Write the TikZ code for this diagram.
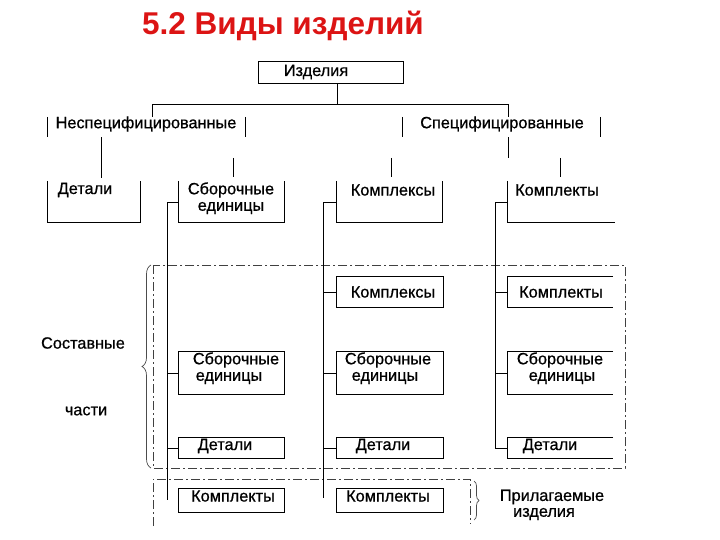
\documentclass[tikz,border=0pt]{standalone}
\usepackage{fontspec}
\setmainfont{Liberation Sans}
\newfontfamily\bodyfont{Liberation Sans}[FakeBold=0.7]
\usetikzlibrary{decorations.pathreplacing,calc}
\definecolor{titlered}{RGB}{220,20,20}
\begin{document}
\begin{tikzpicture}[x=1pt,y=-1pt,
  ln/.style={line width=0.9pt,black},
  dd/.style={line width=0.8pt,black!75,dash pattern=on 9pt off 3pt on 2pt off 3pt},
  txt/.style={font=\bodyfont\fontsize{16.3}{18}\selectfont,inner sep=0pt,anchor=center},
  bx/.style={rectangle,inner sep=0pt,draw=none},
  ttl/.style={font=\fontsize{31.5}{34}\selectfont\bfseries,text=titlered,inner sep=0pt},
  brc/.style={line width=0.7pt,black!70,decorate}
]
\useasboundingbox (0,0) rectangle (720,540);

% title
\node[ttl] (title) at (283,26) {5.2 Виды изделий};

% helper macro for boxes: name, x1,y1,x2,y2
\newcommand{\mybox}[5]{\node[bx,minimum width=#4-#2,minimum height=#5-#3] (#1) at ({(#2+#4)/2},{(#3+#5)/2}) {};}

% top box
\mybox{izd}{259}{62}{403}{83}
\draw[ln] (izd.south west) rectangle (izd.north east);
\node[txt] (izdt) at (316,72) {Изделия};

% second level
\mybox{nesp}{48}{117}{245}{137}
\draw[ln] (nesp.north west) -- (nesp.south west);
\draw[ln] (nesp.north east) -- (nesp.south east);
\node[txt] (nespt) at (146,124) {Неспецифицированные};

\mybox{spec}{403}{117}{600}{137}
\draw[ln] (spec.north west) -- (spec.south west);
\draw[ln] (spec.north east) -- (spec.south east);
\node[txt] (spect) at (502,124) {Специфицированные};

\coordinate (j0) at (337,104);
\coordinate (jL) at (152,104);
\coordinate (jR) at (508,104);
\draw[ln] (izd.south -| j0) -- (j0);
\draw[ln] (jL |- nesp.north) -- (jL) -- (jR) -- (jR |- spec.north);

% top row boxes
\mybox{bDetT}{48}{181}{140}{222}
\draw[ln] (bDetT.north west) -- (bDetT.south west) -- (bDetT.south east) -- (bDetT.north east);
\node[txt] at (85,190) {Детали};

\mybox{bSbT}{179}{181}{284}{222}
\draw[ln] (bSbT.north west) -- (bSbT.south west) -- (bSbT.south east) -- (bSbT.north east);
\node[txt] at (231,190) {Сборочные};
\node[txt] at (231,208) {единицы};

\mybox{bKxT}{337}{181}{442}{222}
\draw[ln] (bKxT.north west) -- (bKxT.south west) -- (bKxT.south east) -- (bKxT.north east);
\node[txt] at (393,190) {Комплексы};

\mybox{bKtT}{508}{181}{615}{222}
\draw[ln] (bKtT.north west) -- (bKtT.south west) -- (bKtT.south east);
\node[txt] at (557,190) {Комплекты};

% vertical links under second level
\coordinate (v1) at (101,178);
\draw[ln] (v1 |- nesp.south) -- (v1);
\coordinate (u2) at (233,158);
\draw[ln] (u2) -- ++(0,19);
\coordinate (u3) at (391,158);
\draw[ln] (u3) -- ++(0,19);
\coordinate (u4) at (560,158);
\draw[ln] (u4) -- ++(0,19);
\coordinate (u5) at (508,158);
\draw[ln] (u5 |- spec.south) -- (u5);

% dash-dot regions
\draw[dd] (153,265) rectangle (625,468);
\draw[dd] (153,526) -- (153,479) -- (470,479) -- (470,524);

% inner boxes
\mybox{c2Kx}{337}{277}{443}{307}
\draw[ln] (c2Kx.south west) rectangle (c2Kx.north east);
\node[txt] at (393,292) {Комплексы};

\mybox{c3Kt}{508}{277}{613}{307}
\draw[ln] (c3Kt.north east) -- (c3Kt.north west) -- (c3Kt.south west) -- (c3Kt.south east);
\node[txt] at (561,292) {Комплекты};

\mybox{c1Sb}{179}{352}{284}{394}
\draw[ln] (c1Sb.south west) rectangle (c1Sb.north east);
\node[txt] at (236,360) {Сборочные};
\node[txt] at (229,378) {единицы};

\mybox{c2Sb}{337}{352}{443}{394}
\draw[ln] (c2Sb.south west) rectangle (c2Sb.north east);
\node[txt] at (388,360) {Сборочные};
\node[txt] at (385,378) {единицы};

\mybox{c3Sb}{508}{352}{613}{394}
\draw[ln] (c3Sb.north east) -- (c3Sb.north west) -- (c3Sb.south west) -- (c3Sb.south east);
\node[txt] at (560,360) {Сборочные};
\node[txt] at (562,378) {единицы};

\mybox{c1Dt}{179}{438}{284}{458}
\draw[ln] (c1Dt.south west) rectangle (c1Dt.north east);
\node[txt] at (225,446) {Детали};

\mybox{c2Dt}{337}{438}{443}{458}
\draw[ln] (c2Dt.south west) rectangle (c2Dt.north east);
\node[txt] at (383,446) {Детали};

\mybox{c3Dt}{508}{438}{613}{458}
\draw[ln] (c3Dt.north east) -- (c3Dt.north west) -- (c3Dt.south west) -- (c3Dt.south east);
\node[txt] at (550,446) {Детали};

\mybox{c1Kt}{179}{489}{284}{512}
\draw[ln] (c1Kt.south west) rectangle (c1Kt.north east);
\node[txt] at (233,496) {Комплекты};

\mybox{c2Kt}{337}{489}{443}{512}
\draw[ln] (c2Kt.south west) rectangle (c2Kt.north east);
\node[txt] at (388,496) {Комплекты};

% spines
\coordinate (s1) at (167,202);
\coordinate (s1e) at (167,500);
\draw[ln] (bSbT.west |- s1) -- (s1) -- (s1e);
\draw[ln] (s1 |- c1Sb.west) -- (c1Sb.west);
\draw[ln] (s1 |- c1Dt.west) -- (c1Dt.west);

\coordinate (s2) at (323,202);
\coordinate (s2e) at (323,498);
\draw[ln] (bKxT.west |- s2) -- (s2) -- (s2e);
\draw[ln] (s2 |- c2Kx.west) -- (c2Kx.west);
\draw[ln] (s2 |- c2Sb.west) -- (c2Sb.west);
\draw[ln] (s2 |- c2Dt.west) -- (c2Dt.west);

\coordinate (s3) at (495,202);
\draw[ln] (bKtT.west |- s3) -- (s3) -- (s3 |- c3Dt.west) -- (c3Dt.west);
\draw[ln] (s3 |- c3Kt.west) -- (c3Kt.west);
\draw[ln] (s3 |- c3Sb.west) -- (c3Sb.west);

% braces and labels
\coordinate (bl1) at (151,468);
\coordinate (bl2) at (151,265);
\draw[brc,decoration={brace,amplitude=9pt}] (bl1) -- (bl2);
\node[txt] (sost) at (83,343) {Составные};
\node[txt] (chast) at (86,411) {части};

\coordinate (br1) at (474,481);
\coordinate (br2) at (474,520);
\draw[brc,decoration={brace,amplitude=5pt}] (br1) -- (br2);
\node[txt] (pril) at (552,497) {Прилагаемые};
\node[txt] (izdl) at (544,514) {изделия};
\end{tikzpicture}
\end{document}
